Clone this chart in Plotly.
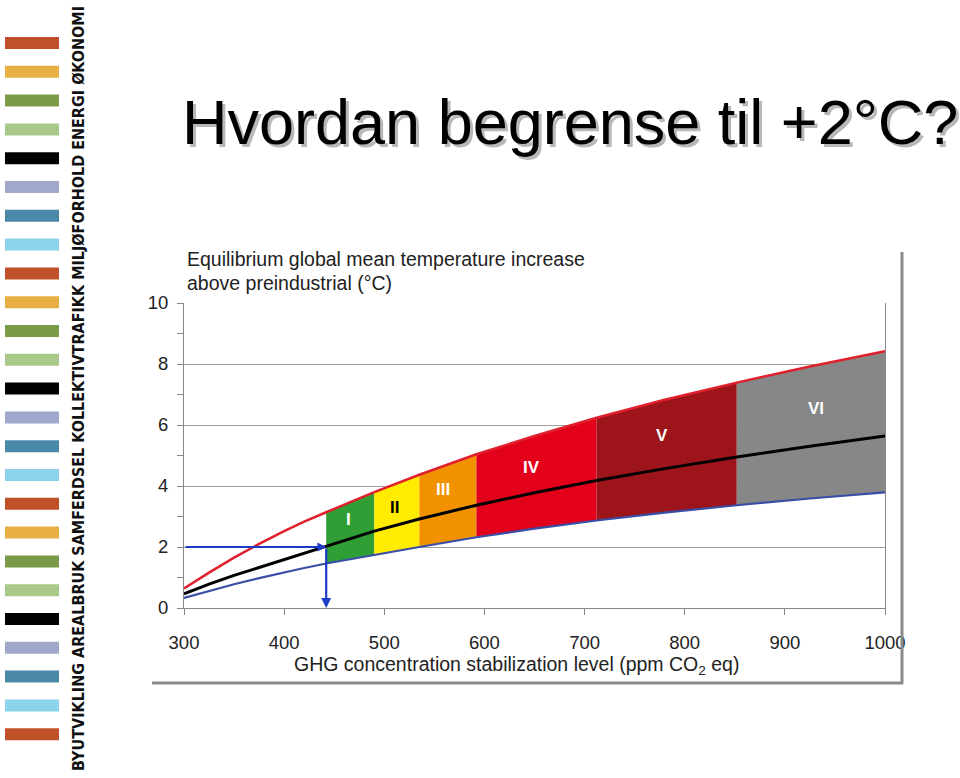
import plotly.graph_objects as go

# ---------------- data ----------------
ppm = [300, 325, 350, 375, 400, 420, 442, 490, 535, 592, 650, 712, 780, 852, 925, 1000]
upper_red = [0.64, 1.16, 1.65, 2.1, 2.52, 2.83, 3.14, 3.8, 4.37, 5.04, 5.64, 6.24, 6.83, 7.39, 7.92, 8.42]
best_black = [0.46, 0.78, 1.07, 1.33, 1.58, 1.8, 2.04, 2.52, 2.92, 3.37, 3.78, 4.18, 4.57, 4.95, 5.3, 5.64]
lower_blue = [0.33, 0.56, 0.78, 0.98, 1.17, 1.31, 1.46, 1.75, 2.0, 2.32, 2.6, 2.87, 3.13, 3.37, 3.59, 3.79]

band_names = ["I", "II", "III", "IV", "V", "VI"]
band_start = [442, 490, 535, 592, 712, 852]
band_end = [490, 535, 592, 712, 852, 1000]
band_colors = ["#2f9e35", "#ffec00", "#f39200", "#e2001a", "#9d141b", "#878787"]
band_label_x = [464, 510, 559, 647, 777, 931]
band_label_y = [2.9, 3.3, 3.87, 4.6, 5.64, 6.53]
band_label_col = ["white", "black", "white", "white", "white", "white"]

target_temp = 2.0
target_ppm = 442

x_ticks = [300, 400, 500, 600, 700, 800, 900, 1000]
y_ticks = [0, 2, 4, 6, 8, 10]

deco_colors = ["#c0502a", "#e8b043", "#7a9a48", "#a9c98b", "#000000",
               "#a0a8cc", "#4a88a8", "#8ad3ea"]
deco_count = 25
side_text = "BYUTVIKLING AREALBRUK SAMFERDSEL KOLLEKTIVTRAFIKK MILJØFORHOLD ENERGI ØKONOMI"
title_text = "Hvordan begrense til +2°C?"

# ---------------- layout geometry ----------------
FW, FH = 960, 778
L, R, T, B = 184, 960 - 885, 303, 778 - 608
PW, PH = FW - L - R, FH - T - B


def px(xp):
    return (xp - L) / PW


def py(yp):
    return (T + PH - yp) / PH


fig = go.Figure()

# bands
for name, a, b, col in zip(band_names, band_start, band_end, band_colors):
    idx = [i for i, v in enumerate(ppm) if a <= v <= b]
    xs = [ppm[i] for i in idx]
    ys_top = [upper_red[i] for i in idx]
    ys_bot = [lower_blue[i] for i in idx]
    fig.add_trace(go.Scatter(
        x=xs + xs[::-1], y=ys_top + ys_bot[::-1], fill="toself",
        fillcolor=col, line=dict(width=0), mode="lines",
        hoverinfo="skip", showlegend=False))

# curves
fig.add_trace(go.Scatter(x=ppm, y=lower_blue, mode="lines",
                         line=dict(color="#3a4ea6", width=2.2), showlegend=False))
fig.add_trace(go.Scatter(x=ppm, y=upper_red, mode="lines",
                         line=dict(color="#e0202c", width=2.5), showlegend=False))
fig.add_trace(go.Scatter(x=ppm, y=best_black, mode="lines",
                         line=dict(color="#000000", width=3), showlegend=False))

annotations = []
for name, lx, ly, lc in zip(band_names, band_label_x, band_label_y, band_label_col):
    annotations.append(dict(x=lx, y=ly, xref="x", yref="y", text=f"<b>{name}</b>",
                            showarrow=False,
                            font=dict(family="Liberation Sans, Arial", size=17, color=lc)))

# arrows
annotations.append(dict(x=target_ppm, y=target_temp, ax=300, ay=target_temp,
                        xref="x", yref="y", axref="x", ayref="y", text="",
                        showarrow=True, arrowhead=2, arrowsize=0.8, arrowwidth=2.2,
                        arrowcolor="#1c3cc6", standoff=0))
annotations.append(dict(x=target_ppm, y=0, ax=target_ppm, ay=target_temp,
                        xref="x", yref="y", axref="x", ayref="y", text="",
                        showarrow=True, arrowhead=2, arrowsize=0.9, arrowwidth=2.2,
                        arrowcolor="#1c3cc6", standoff=0))

# axis titles
annotations.append(dict(x=px(185), y=py(259), xref="paper", yref="paper",
                        xanchor="left", yanchor="middle", showarrow=False,
                        text="Equilibrium global mean temperature increase",
                        font=dict(family="Liberation Sans, Arial", size=19.5, color="#222")))
annotations.append(dict(x=px(185), y=py(283), xref="paper", yref="paper",
                        xanchor="left", yanchor="middle", showarrow=False,
                        text="above preindustrial (°C)",
                        font=dict(family="Liberation Sans, Arial", size=19.5, color="#222")))
annotations.append(dict(x=px(516), y=py(665), xref="paper", yref="paper",
                        xanchor="center", yanchor="middle", showarrow=False,
                        text="GHG concentration stabilization level (ppm CO<sub>2</sub> eq)",
                        font=dict(family="Liberation Sans, Arial", size=19.5, color="#222")))

# title with shadow
for dx, dy, col in [(3, 3, "#b8b8b8"), (0, 0, "#000000")]:
    annotations.append(dict(x=px(180 + dx), y=py(122 + dy), xref="paper", yref="paper",
                            xanchor="left", yanchor="middle", showarrow=False,
                            text=title_text,
                            font=dict(family="Liberation Sans, Arial", size=63, color=col)))

# side vertical text
annotations.append(dict(x=px(78), y=py(389), xref="paper", yref="paper",
                        xanchor="center", yanchor="middle", showarrow=False,
                        textangle=-90, text=f"<b>{side_text}</b>",
                        font=dict(family="DejaVu Sans Condensed, Liberation Sans Narrow, sans-serif",
                                  size=16, color="#111")))

shapes = []
# decorative bars
for i in range(deco_count):
    top = 37 + i * 28.8
    shapes.append(dict(type="rect", xref="paper", yref="paper",
                       x0=px(5), x1=px(59), y0=py(top + 12), y1=py(top),
                       fillcolor=deco_colors[i % len(deco_colors)], line=dict(width=0),
                       layer="above"))
# chart frame (shadow lines)
shapes.append(dict(type="line", xref="paper", yref="paper",
                   x0=px(902), x1=px(902), y0=py(252), y1=py(684),
                   line=dict(color="#8a8a8a", width=3)))
shapes.append(dict(type="line", xref="paper", yref="paper",
                   x0=px(152), x1=px(903), y0=py(683), y1=py(683),
                   line=dict(color="#8a8a8a", width=3)))

fig.update_layout(
    width=FW, height=FH,
    margin=dict(l=L, r=R, t=T, b=B, pad=0),
    paper_bgcolor="white", plot_bgcolor="white",
    showlegend=False,
    annotations=annotations, shapes=shapes,
    xaxis=dict(range=[300, 1000], tickvals=x_ticks, ticks="outside", ticklen=6,
               tickcolor="#888", showline=True, linecolor="#888", linewidth=1,
               showgrid=False, zeroline=False, ticklabelstandoff=12,
               tickfont=dict(family="Liberation Sans, Arial", size=18.5, color="#222")),
    yaxis=dict(range=[0, 10], tickvals=y_ticks, ticks="outside", ticklen=6,
               tickcolor="#888", showline=True, linecolor="#888", linewidth=1,
               mirror=True, showgrid=True, gridcolor="#a0a0a0", gridwidth=1,
               zeroline=False, ticklabelstandoff=5,
               minor=dict(dtick=1, ticks="outside", ticklen=6, tickcolor="#888",
                          showgrid=False),
               tickfont=dict(family="Liberation Sans, Arial", size=18.5, color="#222")),
)

fig.write_html("out.html")
